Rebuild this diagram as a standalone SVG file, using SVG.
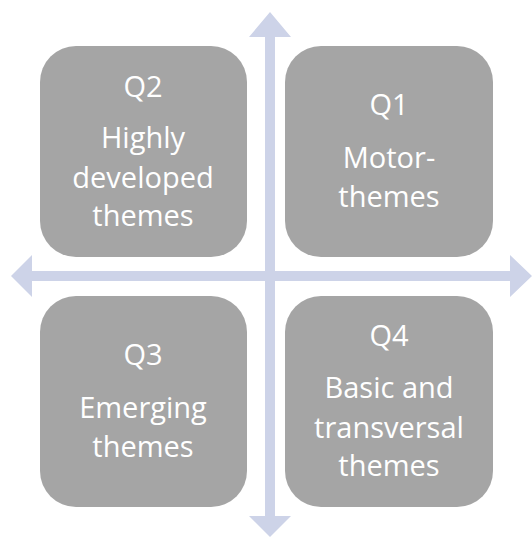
<svg xmlns="http://www.w3.org/2000/svg" width="532" height="537" viewBox="0 0 532 537">
<style>
.box{fill:#a5a5a5}
.arr{fill:#cdd3e8}
.t{font-family:"Open Sans","Liberation Sans",sans-serif;font-size:29px;fill:#ffffff;text-anchor:middle}
</style>
<rect width="532" height="537" fill="#ffffff"/>
<g id="connectors">
<polygon class="arr" points="265,37 249,37 270,12 291,37 275,37 275,516 291,516 270,537 249,516 265,516"/>
<polygon class="arr" points="32,271 32,255 11,276 32,297 32,281 510,281 510,297 532,276 510,255 510,271"/>
</g>
<g id="q2">
<rect class="box" x="40" y="46" width="207" height="211" rx="36"/>
<text class="t" x="143" y="97">Q2</text>
<text class="t" x="143" y="148">Highly</text>
<text class="t" x="143" y="188">developed</text>
<text class="t" x="143" y="226">themes</text>
</g>
<g id="q1">
<rect class="box" x="285" y="46" width="208" height="211" rx="36"/>
<text class="t" x="389" y="115">Q1</text>
<text class="t" x="389" y="168">Motor-</text>
<text class="t" x="389" y="207">themes</text>
</g>
<g id="q3">
<rect class="box" x="40" y="296" width="207" height="211" rx="36"/>
<text class="t" x="143" y="365">Q3</text>
<text class="t" x="143" y="418">Emerging</text>
<text class="t" x="143" y="457">themes</text>
</g>
<g id="q4">
<rect class="box" x="285" y="296" width="208" height="211" rx="36"/>
<text class="t" x="389" y="346">Q4</text>
<text class="t" x="389" y="398">Basic and</text>
<text class="t" x="389" y="438">transversal</text>
<text class="t" x="389" y="476">themes</text>
</g>
</svg>
